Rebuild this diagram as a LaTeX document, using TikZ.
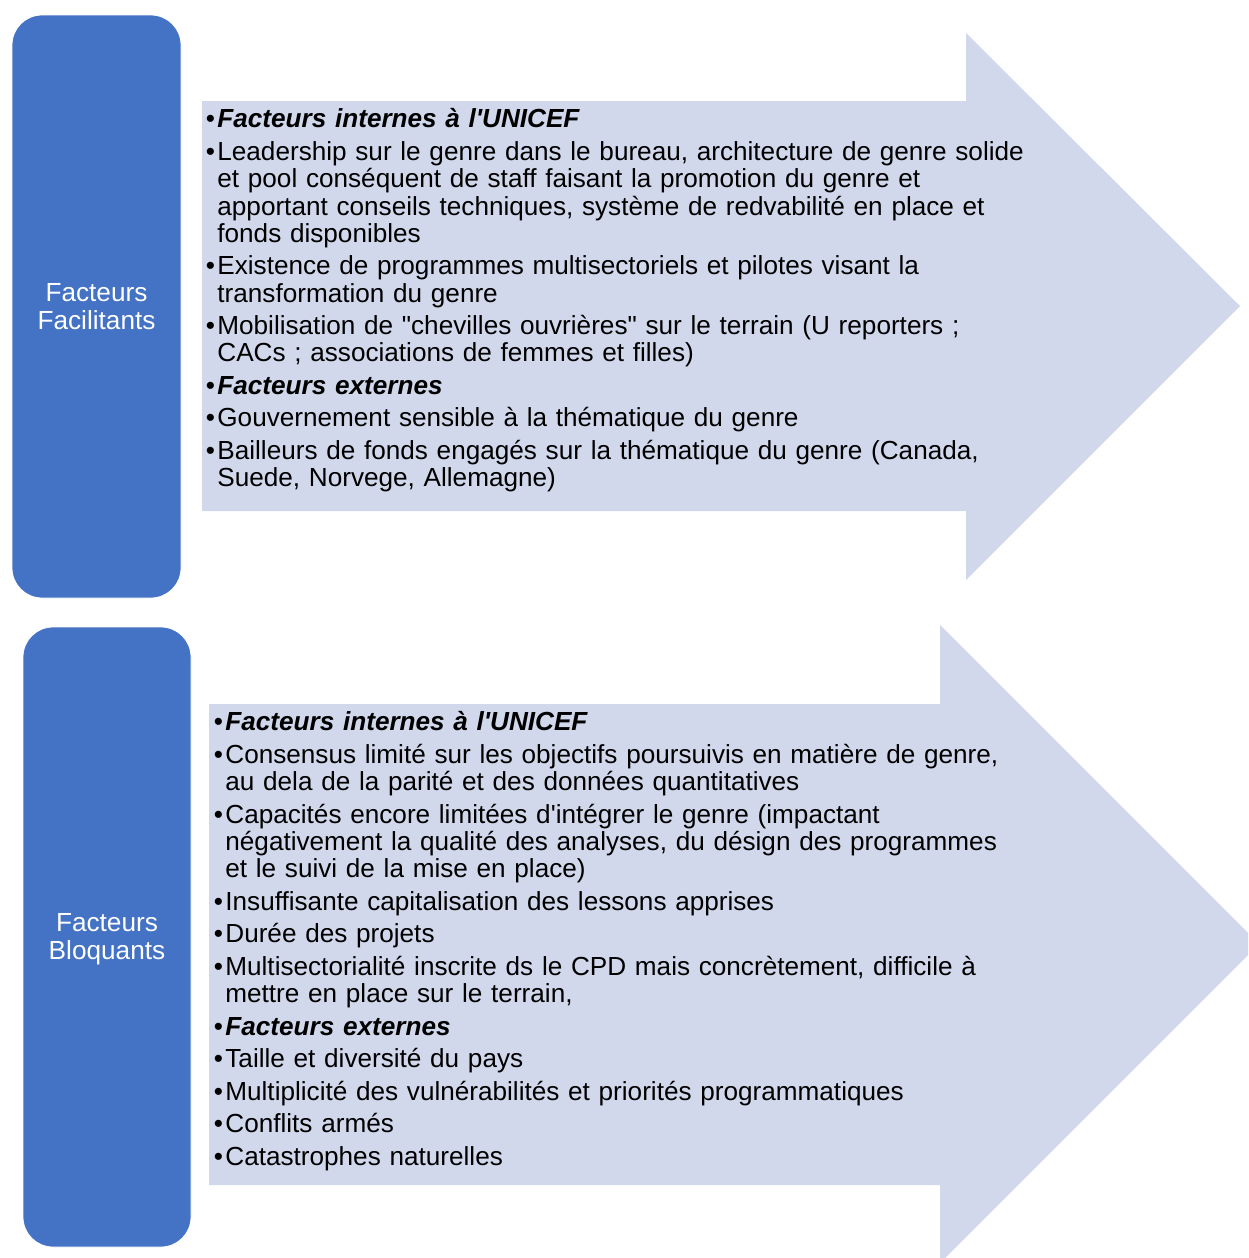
\documentclass[tikz,border=0pt]{standalone}
\usepackage{fontspec}
\setmainfont{Liberation Sans}[Ligatures=TeXOff]
\definecolor{bleu}{HTML}{4472C4}
\definecolor{lavande}{HTML}{D1D8EB}
\newlength\puceL \setlength\puceL{7pt}
\newcommand\puce[1]{\par\hangindent=\puceL\hangafter=1\noindent\strut\makebox[\puceL][c]{\textbullet}#1}
\newcommand\titre[1]{\puce{\textbf{\textit{#1}}}}
\newcommand\serre{\setlength{\lineskiplimit}{-20pt}\setlength{\parskip}{2.6pt}}
\begin{document}
\begin{tikzpicture}[x=0.5pt, y=-0.5pt, line join=round,
	bloc/.style={fill=bleu, draw=white, rounded corners=15pt, text=white, align=center, inner sep=0pt,
		font=\fontsize{13.1}{13.8}\selectfont},
	liste/.style={anchor=north west, inner sep=0pt, text width=420pt,
		font=\fontsize{13.07}{13.65}\selectfont\raggedright\serre}]
		\useasboundingbox (0,0) rectangle (1248,1258);
		\clip (0,0) rectangle (1248,1258);
		% fleches
		\fill[lavande] (202,101)--(966,101)--(966,33)--(1240,306)--(966,580)--(966,511)--(202,511)--cycle;
		\fill[lavande] (209,704)--(940,704)--(940,625)--(1259,944)--(940,1263)--(940,1185)--(209,1185)--cycle;
		% blocs
		\node[bloc, minimum width=84.5pt, minimum height=291.5pt] (facil) at (96.5,306.5) {Facteurs\\Facilitants};
		\node[bloc, minimum width=84pt, minimum height=310pt] (bloq) at (107,937) {\\[-2.5pt]Facteurs\\Bloquants};
		% listes
		\node[liste] (listefacil) at (203,95) {%
			\titre{Facteurs internes à l'UNICEF}
			\puce{Leadership sur le genre dans le bureau, architecture de genre solide\newline
				et pool conséquent de staff faisant la promotion du genre et\newline
				apportant conseils techniques, système de redvabilité en place et\newline
				fonds disponibles}
			\puce{Existence de programmes multisectoriels et pilotes visant la\newline
				transformation du genre}
			\puce{Mobilisation de "chevilles ouvrières" sur le terrain (U reporters ;\newline
				CACs ; associations de femmes et filles)}
			\titre{Facteurs externes}
			\puce{Gouvernement sensible à la thématique du genre}
			\puce{Bailleurs de fonds engagés sur la thématique du genre (Canada,\newline
				Suede, Norvege, Allemagne)}\par};
		\node[liste] (listebloq) at (211,698) {%
			\titre{Facteurs internes à l'UNICEF}
			\puce{Consensus limité sur les objectifs poursuivis en matière de genre,\newline
				au dela de la parité et des données quantitatives}
			\puce{Capacités encore limitées d'intégrer le genre (impactant\newline
				négativement la qualité des analyses, du désign des programmes\newline
				et le suivi de la mise en place)}
			\puce{Insuffisante capitalisation des lessons apprises}
			\puce{Durée des projets}
			\puce{Multisectorialité inscrite ds le CPD mais concrètement, difficile à\newline
				mettre en place sur le terrain,}
			\titre{Facteurs externes}
			\puce{Taille et diversité du pays}
			\puce{Multiplicité des vulnérabilités et priorités programmatiques}
			\puce{Conflits armés}
			\puce{Catastrophes naturelles}\par};
\end{tikzpicture}
\end{document}
